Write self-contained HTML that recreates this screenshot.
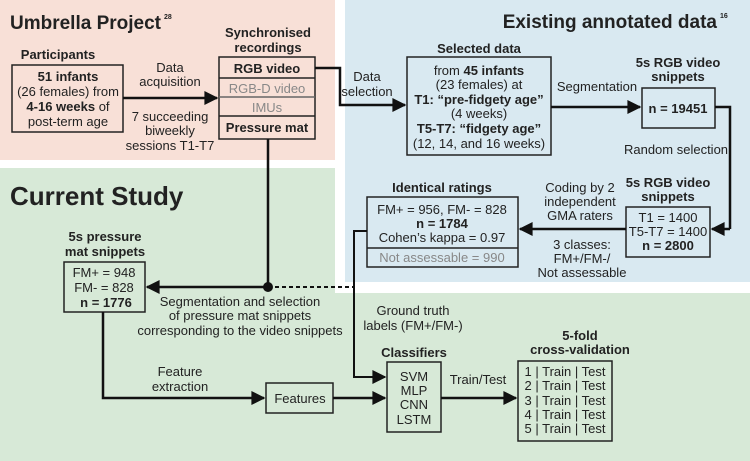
<!DOCTYPE html>
<html><head><meta charset="utf-8"><style>
body{margin:0;background:#fff}
svg{display:block}
text{font-family:"Liberation Sans",sans-serif;font-size:13px;fill:#222}
.b{font-weight:bold}
.g{fill:#888}
.c{text-anchor:middle}
</style></head><body>
<svg width="750" height="461" viewBox="0 0 750 461" xmlns="http://www.w3.org/2000/svg">
<defs>
<marker id="A" viewBox="0 0 10 10" markerWidth="16" markerHeight="14" refX="9" refY="5" orient="auto" markerUnits="userSpaceOnUse"><path d="M0,0 L10,5 L0,10 z" fill="#111"/></marker></defs>
<rect x="0" y="0" width="335" height="160" fill="#f8e0d7"/>
<rect x="345" y="0" width="405" height="282" fill="#d9e9f1"/>
<rect x="0" y="168" width="335" height="130" fill="#d7e9d7"/>
<rect x="0" y="293" width="750" height="168" fill="#d7e9d7"/>

<text x="10" y="29" class="b" style="font-size:19px">Umbrella Project<tspan dx="3" dy="-10" style="font-size:7px">28</tspan></text>
<text x="717" y="28" class="b" style="font-size:19px;text-anchor:end">Existing annotated data</text><text x="720" y="18" style="font-size:7px" class="b">16</text>
<text x="10" y="205" class="b" style="font-size:26px">Current Study</text>

<g fill="none" stroke="#222" stroke-width="1.5">
<rect x="12" y="65" width="111" height="67"/>
<rect x="219" y="57" width="96" height="82"/>
<line x1="219" y1="78" x2="315" y2="78"/><line x1="219" y1="97" x2="315" y2="97" stroke="#666"/><line x1="219" y1="116" x2="315" y2="116"/>
<rect x="407" y="57" width="144" height="98"/>
<rect x="642" y="88" width="73" height="40"/>
<rect x="626" y="207" width="84" height="50"/>
<rect x="367" y="197" width="151" height="70"/><line x1="367" y1="248" x2="518" y2="248"/>
<rect x="64" y="262" width="81" height="50"/>
<rect x="266" y="383" width="67" height="30"/>
<rect x="387" y="362" width="54" height="70"/>
<rect x="518" y="361" width="94" height="80"/>
</g>
<g fill="none" stroke="#111" stroke-width="2.5">
<line x1="123" y1="98" x2="217" y2="98" marker-end="url(#A)"/>
<polyline points="315,68 340,68 340,105 405,105" marker-end="url(#A)"/>
<line x1="551" y1="107" x2="640" y2="107" marker-end="url(#A)"/>
<polyline points="715,107 730,107 730,229"/>
<line x1="730" y1="229" x2="712" y2="229" marker-end="url(#A)"/>
<line x1="626" y1="229" x2="520" y2="229" marker-end="url(#A)"/>
<polyline points="367,231 354,231 354,377 385,377" marker-end="url(#A)" stroke-width="2"/>
<line x1="268" y1="139" x2="268" y2="287"/>
<line x1="268" y1="287" x2="147" y2="287" marker-end="url(#A)"/>
<line x1="268" y1="287" x2="354" y2="287" stroke-dasharray="4,3" stroke-width="2"/>
<polyline points="103,312 103,398 264,398" marker-end="url(#A)"/>
<line x1="333" y1="398" x2="385" y2="398" marker-end="url(#A)"/>
<line x1="441" y1="398" x2="516" y2="398" marker-end="url(#A)"/>
</g>
<circle cx="268" cy="287" r="5" fill="#111"/>

<text x="58" y="59" class="b c">Participants</text>
<text x="68" y="81" class="c"><tspan class="b">51 infants</tspan></text>
<text x="68" y="96" class="c">(26 females) from</text>
<text x="68" y="111" class="c"><tspan class="b">4-16 weeks</tspan> of</text>
<text x="68" y="126" class="c">post-term age</text>
<text x="170" y="72" class="c">Data</text><text x="170" y="86" class="c">acquisition</text>
<text x="170" y="121" class="c">7 succeeding</text><text x="170" y="135" class="c">biweekly</text><text x="170" y="150" class="c">sessions T1-T7</text>
<text x="268" y="37" class="b c">Synchronised</text><text x="268" y="52" class="b c">recordings</text>
<text x="267" y="73" class="b c">RGB video</text>
<text x="267" y="93" class="g c">RGB-D video</text>
<text x="267" y="112" class="g c">IMUs</text>
<text x="267" y="132" class="b c">Pressure mat</text>
<text x="367" y="81" class="c">Data</text><text x="367" y="96" class="c">selection</text>
<text x="479" y="53" class="b c">Selected data</text>
<text x="479" y="75" class="c">from <tspan class="b">45 infants</tspan></text>
<text x="479" y="89" class="c">(23 females) at</text>
<text x="479" y="104" class="b c">T1: “pre-fidgety age”</text>
<text x="479" y="118" class="c">(4 weeks)</text>
<text x="479" y="133" class="b c">T5-T7: “fidgety age”</text>
<text x="479" y="148" class="c">(12, 14, and 16 weeks)</text>
<text x="597" y="91" class="c">Segmentation</text>
<text x="678" y="67" class="b c">5s RGB video</text><text x="678" y="81" class="b c">snippets</text>
<text x="678" y="113" class="b c">n = 19451</text>
<text x="676" y="154" class="c">Random selection</text>
<text x="668" y="187" class="b c">5s RGB video</text><text x="668" y="201" class="b c">snippets</text>
<text x="668" y="222" class="c">T1 = 1400</text>
<text x="668" y="236" class="c">T5-T7 = 1400</text>
<text x="668" y="250" class="b c">n = 2800</text>
<text x="580" y="192" class="c">Coding by 2</text><text x="580" y="206" class="c">independent</text><text x="580" y="220" class="c">GMA raters</text>
<text x="582" y="249" class="c">3 classes:</text><text x="582" y="263" class="c">FM+/FM-/</text><text x="582" y="277" class="c">Not assessable</text>
<text x="442" y="192" class="b c">Identical ratings</text>
<text x="442" y="214" class="c">FM+ = 956, FM- = 828</text>
<text x="442" y="228" class="b c">n = 1784</text>
<text x="442" y="242" class="c">Cohen’s kappa = 0.97</text>
<text x="442" y="262" class="g c">Not assessable = 990</text>
<text x="105" y="241" class="b c">5s pressure</text><text x="105" y="256" class="b c">mat snippets</text>
<text x="104" y="277" class="c">FM+ = 948</text><text x="104" y="292" class="c">FM- = 828</text><text x="106" y="307" class="b c">n = 1776</text>
<text x="240" y="306" class="c">Segmentation and selection</text>
<text x="240" y="320" class="c">of pressure mat snippets</text>
<text x="240" y="335" class="c">corresponding to the video snippets</text>
<text x="413" y="315" class="c">Ground truth</text><text x="413" y="330" class="c">labels (FM+/FM-)</text>
<text x="180" y="376" class="c">Feature</text><text x="180" y="391" class="c">extraction</text>
<text x="300" y="403" class="c">Features</text>
<text x="414" y="357" class="b c">Classifiers</text>
<text x="414" y="381" class="c">SVM</text><text x="414" y="395" class="c">MLP</text><text x="414" y="409" class="c">CNN</text><text x="414" y="424" class="c">LSTM</text>
<text x="478" y="384" class="c">Train/Test</text>
<text x="580" y="340" class="b c">5-fold</text><text x="580" y="354" class="b c">cross-validation</text>
<text x="565" y="376" class="c">1 | Train | Test</text>
<text x="565" y="390" class="c">2 | Train | Test</text>
<text x="565" y="405" class="c">3 | Train | Test</text>
<text x="565" y="419" class="c">4 | Train | Test</text>
<text x="565" y="433" class="c">5 | Train | Test</text>
</svg>
</body></html>
